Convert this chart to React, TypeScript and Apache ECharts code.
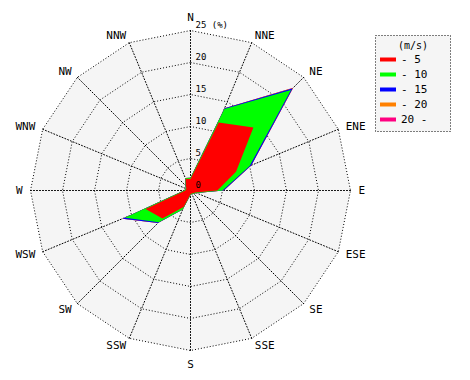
import React, { useEffect, useRef } from 'react';
import * as echarts from 'echarts';

// Compass directions, clockwise from North
const directions = ['N', 'NNE', 'NE', 'ENE', 'E', 'ESE', 'SE', 'SSE', 'S', 'SSW', 'SW', 'WSW', 'W', 'WNW', 'NW', 'NNW'];
// Wind speed classes (m/s)
const speedClasses = ['- 5', '- 10', '- 15', '- 20', '20 -'];
const classColors = ['#ff0000', '#00ff00', '#0000ff', '#ff8000', '#ff0080'];

// Frequency (%) per direction for each speed class
const freqUpTo5 = [1.8, 11.5, 13.9, 7.7, 4.2, 0.8, 0.6, 0.5, 0.6, 2.8, 6.2, 7.6, 0.8, 0.7, 1.0, 2.0];
const freqUpTo10 = [0.2, 2.3, 8.3, 2.3, 0.8, 0.2, 0.1, 0.1, 0.1, 0.4, 0.8, 3.5, 0.2, 0.1, 0.1, 0.1];
const freqUpTo15 = [0, 0.1, 0.4, 0.3, 0.2, 0, 0, 0, 0, 0, 0.2, 0.4, 0, 0, 0, 0];
const freqUpTo20 = [0, 0, 0.1, 0, 0, 0, 0, 0, 0, 0, 0, 0, 0, 0, 0, 0];
const freqOver20 = [0, 0, 0, 0, 0, 0, 0, 0, 0, 0, 0, 0, 0, 0, 0, 0];

const radialTicks = [0, 5, 10, 15, 20, 25];
const radialMax = 25;

const FONT = 'DejaVu Sans Mono';

export default function App() {
  const ref = useRef<HTMLDivElement>(null);

  useEffect(() => {
    if (!ref.current) return;
    const chart = echarts.init(ref.current, null, { renderer: 'svg' });

    const cx = 190.5;
    const cy = 190.5;
    const R = 160;

    const classes = [freqUpTo5, freqUpTo10, freqUpTo15, freqUpTo20, freqOver20];
    // cumulative sums
    const cumulative: number[][] = [];
    classes.forEach((arr, k) => {
      cumulative.push(arr.map((v, i) => +(v + (k > 0 ? cumulative[k - 1][i] : 0)).toFixed(2)));
    });
    // ECharts radar runs counter-clockwise: reorder N, NNW, NW, ... NNE
    const order = directions.map((_, i) => (i === 0 ? 0 : directions.length - i));
    const indicator = order.map((i) => ({ name: directions[i], max: radialMax, min: 0 }));

    const series: any[] = [];
    for (let k = classes.length - 1; k >= 0; k--) {
      series.push({
        type: 'radar',
        name: speedClasses[k],
        symbol: 'none',
        z: 2 + (classes.length - k),
        lineStyle: { width: 0, color: classColors[k] },
        itemStyle: { color: classColors[k] },
        areaStyle: { color: classColors[k], opacity: 1 },
        data: [{ name: speedClasses[k], value: order.map((i) => cumulative[k][i]) }],
      });
    }

    const tickGraphics = radialTicks.map((v) => ({
      type: 'text',
      x: cx + 5,
      y: cy - (R * v) / radialMax - 1,
      z: 100,
      style: {
        text: v === radialMax ? `${v} (%)` : `${v}`,
        fontFamily: FONT,
        fontSize: 9,
        fill: '#000',
        textVerticalAlign: 'bottom',
        textAlign: 'left',
      },
    }));

    chart.setOption({
      animation: false,
      color: classColors,
      radar: {
        center: [cx, cy],
        radius: R,
        startAngle: 90,
        shape: 'polygon',
        splitNumber: 5,
        indicator,
        nameGap: 8,
        axisName: { color: '#000', fontFamily: FONT, fontSize: 11 },
        axisLine: { lineStyle: { color: '#000', width: 1, type: [1, 2] } },
        splitLine: { lineStyle: { color: '#000', width: 1, type: [1, 2] } },
        splitArea: { show: true, areaStyle: { color: ['#f5f5f5'] } },
        axisTick: { show: false },
        axisLabel: { show: false },
        z: 1,
      },
      legend: {
        data: speedClasses,
        orient: 'vertical',
        left: 380,
        top: 52,
        icon: 'rect',
        itemWidth: 16,
        itemHeight: 4,
        itemGap: 0,
        selectedMode: false,
        padding: 0,
        textStyle: { fontFamily: FONT, fontSize: 11, color: '#000', lineHeight: 15 },
      },
      graphic: [
        {
          type: 'rect',
          z: -1,
          shape: { x: 375.5, y: 35.5, width: 75, height: 96 },
          style: { fill: '#f5f5f5', stroke: '#000', lineWidth: 1, lineDash: [1, 2] },
        },
        {
          type: 'text',
          x: 413,
          y: 45,
          style: {
            text: '(m/s)',
            fontFamily: FONT,
            fontSize: 10,
            fill: '#000',
            textAlign: 'center',
            textVerticalAlign: 'middle',
          },
        },
        ...tickGraphics,
      ],
      series,
    });

    return () => chart.dispose();
  }, []);

  return (
    <div
      ref={ref}
      style={{ position: 'fixed', left: 0, top: 0, width: 470, height: 380, background: '#fff' }}
    />
  );
}
